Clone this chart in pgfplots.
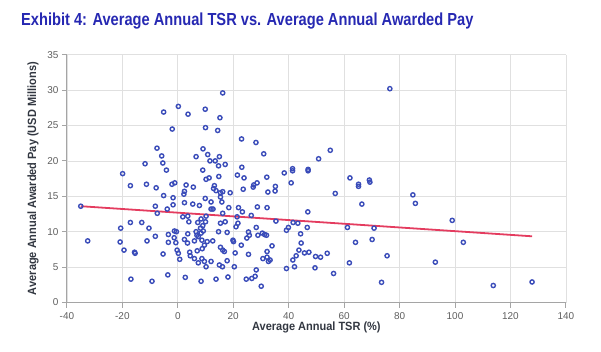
\documentclass[border=0pt]{standalone}
\usepackage{fontspec}
\setmainfont{Liberation Sans}
\newfontfamily\titlefont[FakeStretch=0.84]{Liberation Sans}
\newfontfamily\labfont[FakeStretch=0.92]{Liberation Sans}
\usepackage{pgfplots}
\pgfplotsset{compat=1.18}
\definecolor{titleblue}{RGB}{38,40,178}
\definecolor{ptblue}{RGB}{58,76,185}
\definecolor{linered}{RGB}{228,60,95}
\definecolor{gridgray}{RGB}{224,224,224}
\definecolor{axisgray}{RGB}{165,165,165}
\definecolor{tickgray}{RGB}{95,95,95}
\definecolor{labelgray}{RGB}{50,55,65}
\begin{document}
\begin{tikzpicture}
\path[use as bounding box] (0,0) rectangle (601bp,352bp);
\node[anchor=base west, inner sep=0pt, text=titleblue, font=\titlefont\bfseries\fontsize{17.5}{20}\selectfont] at (21bp,326.3bp) {Exhibit 4: Average Annual TSR vs. Average Annual Awarded Pay};
\begin{axis}[
 at={(66.9bp,49.5bp)}, anchor=south west,
 scale only axis, width=499bp, height=247.8bp,
 xmin=-40, xmax=140, ymin=0, ymax=35,
 xtick={-40,-20,...,140}, ytick={0,5,...,35},
 axis lines=left, axis line style={-, draw=axisgray, line width=0.9bp},
 grid=major, major grid style={draw=gridgray, line width=0.7bp},
 tick align=outside, major tick length=5bp, tick style={draw=axisgray, line width=0.9bp},
 /pgf/number format/assume math mode=true,
 ticklabel style={font=\fontsize{10}{12}\selectfont, text=tickgray},
 xticklabel style={yshift=-1.5bp},
 xlabel={Average Annual TSR (\%)}, ylabel={Average Annual Awarded Pay (USD Millions)},
 every axis x label/.style={at={(axis description cs:0.5,-0.099)}, anchor=center},
 every axis y label/.style={at={(axis description cs:-0.068,0.5)}, anchor=center, rotate=90},
 label style={font=\labfont\bfseries\fontsize{12}{14}\selectfont, text=labelgray},
 clip=false,
]
\addplot[only marks, mark=o, mark size=2.1bp, mark options={draw=ptblue, line width=1.4bp, fill=white, fill opacity=0}] coordinates {
(0.2,27.7) (-5.1,26.9) (3.7,26.6) (-2.0,24.5) (-7.5,21.8) (-5.8,20.7) (-11.8,19.6) (-5.4,19.7) (-4.1,18.7) (-19.9,18.2)
(16.2,29.6) (9.9,27.3) (15.2,26.1) (10.0,24.7) (14.4,24.3) (23.0,23.1) (28.2,22.6) (9.1,21.7) (10.8,20.9) (6.6,20.6)
(15.0,20.6) (31.0,21.0) (11.6,20.0) (13.5,20.0) (14.7,19.3) (17.1,19.5) (23.1,19.1) (9.0,18.7) (38.4,18.3) (41.4,18.9)
(41.4,18.6) (47.0,18.8) (47.0,18.6) (11.3,17.6) (10.2,17.4) (14.8,17.8) (21.5,18.0) (23.9,17.6) (32.1,17.7) (76.5,30.2)
(55.0,21.5) (50.8,20.3) (62.1,17.6) (69.1,17.3) (-17.1,16.5) (-11.3,16.7) (-7.8,16.2) (-2.1,16.7) (-1.1,16.9) (3.0,16.6)
(-5.1,15.1) (-1.7,14.8) (2.4,15.7) (2.2,15.3) (-35.0,13.6) (-8.1,13.6) (-1.7,13.8) (2.4,14.1) (-3.8,13.2) (-7.4,12.6)
(1.8,12.1) (3.6,12.2) (4.0,11.4) (-17.1,11.3) (-13.0,11.3) (-10.4,10.5) (-20.6,10.5) (-1.2,10.1) (-0.5,10.0) (-3.4,9.6)
(-8.1,9.35) (3.6,9.7) (-1.3,9.15) (2.4,8.9) (-32.5,8.7) (-20.8,8.55) (-11.1,8.7) (-3.4,8.5) (-0.7,8.45) (3.5,8.4)
(-19.4,7.4) (-0.25,7.4) (0.2,6.95) (-15.4,6.95) (-15.6,7.1) (-5.3,6.85) (4.3,7.1) (0.7,6.1) (-16.9,3.3) (-9.3,3.0)
(-3.6,3.9) (2.7,3.55) (5.6,16.3) (13.2,16.5) (12.9,16.1) (13.8,15.8) (15.4,15.5) (16.2,15.65) (18.9,15.5) (23.6,16.0)
(27.4,16.6) (28.6,16.9) (27.2,16.3) (32.5,15.6) (35.2,16.4) (35.1,15.75) (40.9,16.9) (9.9,14.7) (12.0,14.2) (15.4,14.9)
(5.4,13.9) (7.8,13.7) (15.9,14.2) (12.0,13.2) (12.7,13.2) (18.4,13.4) (21.9,13.4) (23.3,12.8) (28.7,13.5) (32.2,13.4)
(46.9,12.8) (16.2,12.6) (26.5,12.3) (10.2,12.2) (10.0,11.4) (8.4,11.8) (7.2,11.3) (17.1,11.4) (15.4,11.2) (21.4,12.1)
(21.7,11.2) (21.0,10.7) (35.4,11.5) (41.6,11.3) (43.3,11.2) (39.9,10.6) (39.2,10.2) (46.7,10.6) (28.3,10.6) (9.0,10.85)
(8.2,10.5) (9.2,10.1) (8.4,9.8) (6.6,10.0) (6.9,9.5) (7.4,9.3) (14.7,10.0) (17.8,9.9) (25.5,9.96) (25.8,9.5)
(24.9,9.1) (30.5,9.8) (31.3,9.6) (32.0,9.5) (28.9,9.5) (44.3,9.7) (6.0,8.7) (8.7,8.8) (10.6,8.6) (9.6,8.1)
(8.8,7.6) (12.6,8.7) (19.9,8.8) (20.1,8.6) (22.9,8.1) (34.0,8.0) (44.5,8.4) (15.4,7.8) (16.2,7.4) (16.8,7.2)
(7.0,7.3) (20.7,7.0) (25.5,6.8) (32.2,7.2) (43.7,7.4) (45.7,7.0) (47.3,7.1) (42.7,6.6) (41.5,6.0) (4.5,6.6)
(6.0,6.2) (8.7,6.2) (9.6,5.8) (7.4,5.6) (12.0,5.8) (17.8,5.9) (30.7,6.2) (32.2,6.4) (33.3,6.0) (32.7,5.8)
(16.1,5.05) (15.0,5.3) (20.4,5.05) (10.2,5.05) (42.1,5.05) (39.2,4.8) (28.3,4.6) (27.9,3.7) (26.7,3.4) (24.7,3.3)
(18.1,3.6) (13.8,3.3) (8.4,3.0) (30.1,2.3) (65.2,16.7) (65.2,16.4) (69.3,17.0) (56.8,15.4) (84.8,15.2) (85.7,14.0)
(66.4,13.9) (61.2,10.6) (70.8,10.5) (64.1,8.5) (70.1,8.9) (49.7,6.5) (51.5,6.4) (53.9,6.95) (75.5,6.6) (61.9,5.6)
(49.5,4.9) (56.2,4.1) (73.5,2.85) (99.0,11.6) (103.0,8.5) (92.9,5.7) (113.8,2.4) (127.8,2.9)
};
\addplot[draw=linered, line width=1.8bp, no marks] coordinates {(-35.0,13.6) (127.8,9.35)};
\end{axis}
\end{tikzpicture}
\end{document}
